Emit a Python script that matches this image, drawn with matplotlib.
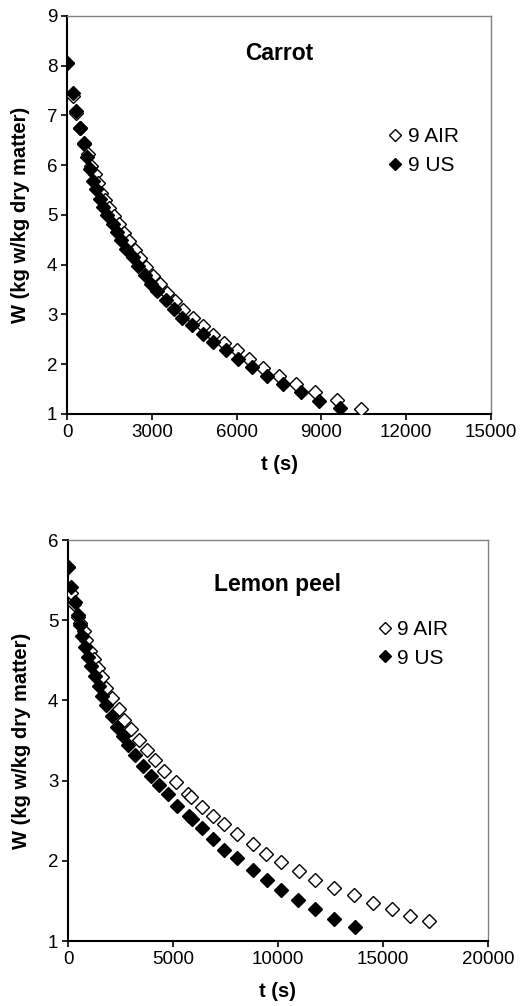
import numpy as np
import matplotlib
matplotlib.use("Agg")
import matplotlib.pyplot as plt

plt.rcParams["font.family"] = ["Liberation Sans", "DejaVu Sans"]

# Carrot drying curves, t in s, W in kg w/kg dry matter
carrot_air_t = [0, 200, 330, 470, 600, 730, 850, 980, 1085, 1200, 1330, 1470,
                1650, 1825, 2000, 2180, 2390, 2590, 2800, 3040, 3275, 3530,
                3815, 4120, 4450, 4810, 5180, 5560, 6020, 6455, 6950, 7515,
                8090, 8775, 9540, 10400]
carrot_air_w = [8.06, 7.39, 7.05, 6.74, 6.42, 6.22, 5.99, 5.82, 5.64, 5.45,
                5.30, 5.15, 4.98, 4.81, 4.63, 4.47, 4.30, 4.14, 3.96, 3.78,
                3.62, 3.43, 3.27, 3.09, 2.93, 2.77, 2.59, 2.42, 2.28, 2.10,
                1.93, 1.77, 1.60, 1.44, 1.29, 1.10]
carrot_us_t = [0, 200, 330, 470, 600, 695, 810, 930, 1040, 1155, 1270, 1410,
               1615, 1765, 1920, 2095, 2330, 2510, 2745, 2980, 3180, 3500,
               3770, 4065, 4430, 4810, 5180, 5610, 6040, 6530, 7070, 7650,
               8260, 8930, 9660]
carrot_us_w = [8.06, 7.46, 7.09, 6.75, 6.44, 6.16, 5.92, 5.68, 5.52, 5.32,
               5.17, 5.00, 4.82, 4.65, 4.49, 4.31, 4.15, 3.98, 3.79, 3.62,
               3.47, 3.29, 3.11, 2.93, 2.79, 2.61, 2.44, 2.28, 2.11, 1.94,
               1.77, 1.61, 1.44, 1.27, 1.12]

# Lemon peel drying curves
lemon_air_t = [0, 160, 300, 460, 590, 760, 870, 1030, 1220, 1410, 1620, 1825,
               2095, 2410, 2650, 3000, 3400, 3775, 4160, 4585, 5160, 5715,
               5870, 6365, 6905, 7410, 8045, 8790, 9425, 10140, 10980, 11760,
               12650, 13630, 14550, 15425, 16300, 17220]
lemon_air_w = [5.66, 5.34, 5.20, 5.04, 4.97, 4.87, 4.75, 4.62, 4.52, 4.41,
               4.29, 4.15, 4.03, 3.89, 3.76, 3.64, 3.51, 3.38, 3.26, 3.12,
               2.98, 2.83, 2.80, 2.67, 2.56, 2.46, 2.34, 2.21, 2.09, 1.98,
               1.87, 1.76, 1.66, 1.57, 1.47, 1.40, 1.31, 1.25]
lemon_us_t = [0, 160, 350, 460, 590, 670, 825, 950, 1095, 1270, 1460, 1620,
              1825, 2080, 2330, 2600, 2870, 3205, 3570, 3950, 4315, 4775,
              5190, 5745, 5905, 6365, 6920, 7445, 8060, 8810, 9460, 10160,
              10950, 11775, 12650, 13650]
lemon_us_w = [5.66, 5.41, 5.23, 5.07, 4.94, 4.80, 4.67, 4.54, 4.43, 4.31,
              4.18, 4.05, 3.94, 3.81, 3.67, 3.56, 3.44, 3.32, 3.18, 3.06,
              2.95, 2.83, 2.68, 2.56, 2.52, 2.41, 2.27, 2.13, 2.04, 1.89,
              1.76, 1.64, 1.51, 1.40, 1.28, 1.17]

series_labels = ["9 AIR", "9 US"]


def draw_panel(ax, air_t, air_w, us_t, us_w, title, title_xy,
               xmax, xstep, ymax, leg_anchor):
    ax.plot(air_t, air_w, ls="none", marker="D", ms=7.4, mfc="white",
            mec="black", mew=1.0, label=series_labels[0], zorder=3)
    ax.plot(us_t, us_w, ls="none", marker="D", ms=7.4, mfc="black",
            mec="black", mew=1.0, label=series_labels[1], zorder=4)

    ax.set_xlim(0, xmax)
    ax.set_ylim(1, ymax)
    ax.set_xticks(np.arange(0, xmax + 1, xstep))
    ax.set_yticks(np.arange(1, ymax + 1, 1))
    ax.tick_params(direction="out", length=4, width=1.2, labelsize=13.5,
                   colors="black", pad=3)

    for side in ("top", "right"):
        ax.spines[side].set_color("#808080")
        ax.spines[side].set_linewidth(1.0)
    for side in ("left", "bottom"):
        ax.spines[side].set_color("black")
        ax.spines[side].set_linewidth(1.5)

    ax.set_xlabel("t (s)", fontsize=14.5, fontweight="bold", labelpad=10)
    ax.set_ylabel("W (kg w/kg dry matter)", fontsize=14.5,
                  fontweight="bold", labelpad=12)
    ax.text(title_xy[0], title_xy[1], title, fontsize=16.5,
            fontweight="bold", ha="center", va="center")

    ax.legend(loc="upper left", bbox_to_anchor=leg_anchor, frameon=False,
              fontsize=15, handletextpad=0.1, handlelength=1.0,
              labelspacing=0.45, borderpad=0, borderaxespad=0,
              markerscale=0.8)


fig = plt.figure(figsize=(5.32, 10.06), dpi=100)

ax1 = fig.add_axes([0.126, 0.5885, 0.797, 0.3956])
draw_panel(ax1, carrot_air_t, carrot_air_w, carrot_us_t, carrot_us_w,
           "Carrot", (7500, 8.25), 15000, 3000, 9, (0.75, 0.72))

ax2 = fig.add_axes([0.128, 0.0646, 0.789, 0.3986])
draw_panel(ax2, lemon_air_t, lemon_air_w, lemon_us_t, lemon_us_w,
           "Lemon peel", (10000, 5.45), 20000, 5000, 6, (0.73, 0.80))

fig.savefig("out.png", dpi=100)
